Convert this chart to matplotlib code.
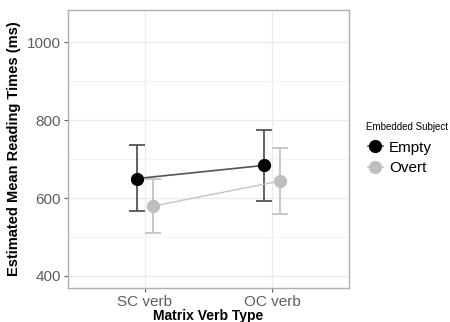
import matplotlib
matplotlib.use("Agg")
import matplotlib.pyplot as plt
import numpy as np
from matplotlib.lines import Line2D

plt.rcParams['font.family'] = ['Liberation Sans', 'DejaVu Sans']

categories = ["SC verb", "OC verb"]
groups = ["Empty", "Overt"]
means = {"Empty": [650, 684], "Overt": [579, 644]}
ci_low = {"Empty": [566, 593], "Overt": [510, 558]}
ci_high = {"Empty": [736, 776], "Overt": [648, 729]}
y_ticks = [400, 600, 800, 1000]

point_colors = {"Empty": "#000000", "Overt": "#BEBEBE"}
line_colors = {"Empty": "#555555", "Overt": "#C4C4C4"}
offsets = {"Empty": -0.062, "Overt": 0.062}

fig = plt.figure(figsize=(4.5, 3.22), dpi=100)
ax = fig.add_axes([68/450, 1-288/322, 281/450, 278/322])

base = np.arange(1, len(categories) + 1)
for g in groups:
    x = base + offsets[g]
    m = np.array(means[g])
    lo = m - np.array(ci_low[g])
    hi = np.array(ci_high[g]) - m
    ax.errorbar(x, m, yerr=[lo, hi], fmt='none', ecolor=line_colors[g],
                elinewidth=1.3, capsize=6, capthick=1.3, zorder=2)
    ax.plot(x, m, color=line_colors[g], lw=1.2 if g == "Empty" else 1.0, zorder=3)
    ax.plot(x, m, 'o', color=point_colors[g], markersize=8.5, zorder=4)

ax.set_xlim(0.4, 2.6)
ax.set_ylim(369, 1083)
ax.set_xticks(base)
ax.set_xticklabels(categories)
ax.set_yticks(y_ticks)
ax.set_yticks([500, 700, 900], minor=True)
ax.grid(True, which='major', color='#EBEBEB', lw=1.0, zorder=0)
ax.grid(True, which='minor', axis='y', color='#F3F3F3', lw=0.8, zorder=0)
ax.set_axisbelow(True)
for s in ax.spines.values():
    s.set_color('#B0B0B0')
    s.set_linewidth(1.0)
ax.tick_params(axis='both', which='major', labelsize=11, labelcolor='#5E5E5E',
               color='#5E5E5E', length=3, width=0.8, pad=2)
ax.tick_params(axis='y', which='minor', length=0)
ax.set_xlabel("Matrix Verb Type", fontsize=10, fontweight='bold', labelpad=0)
ax.set_ylabel("Estimated Mean Reading Times (ms)", fontsize=10.5, fontweight='bold', labelpad=4)

# legend title drawn separately so the key rows can be placed freely
fig.text(366/450, 1-127/322, "Embedded Subject", fontsize=7, va='center', ha='left')
handles = [Line2D([0], [0], color=line_colors[g], lw=1.2, marker='o',
                  markerfacecolor=point_colors[g], markeredgecolor=point_colors[g],
                  markersize=8.5) for g in groups]
leg = fig.legend(handles, groups, loc='upper left',
                 bbox_to_anchor=(357/450, 1-130/322), frameon=False,
                 fontsize=11, handlelength=1.0,
                 handletextpad=0.4, labelspacing=0.42, borderpad=0.2)

fig.savefig("out.png", dpi=100)
